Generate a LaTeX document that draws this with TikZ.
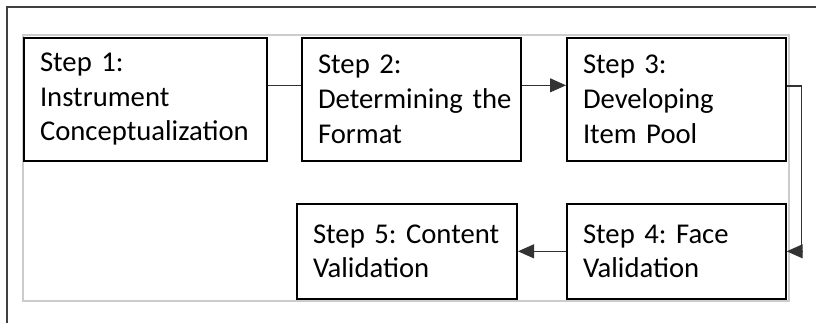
\documentclass[tikz,border=0pt]{standalone}
\usepackage{fontspec}
\setmainfont{Carlito}
\frenchspacing
\usetikzlibrary{arrows.meta}
\begin{document}
\begin{tikzpicture}[x=0.75pt, y=-0.75pt,
  stepbox/.style={draw, line width=1.5pt, anchor=north west, align=left,
    inner xsep=12pt, font=\fontsize{21.5}{26}\selectfont},
  link/.style={line width=0.8pt, black!80},
  arr/.style={link, -{Triangle[length=12pt, width=10.5pt]}}]
\useasboundingbox (0,0) rectangle (816,323);
% frames
\draw[black!75, line width=1.2pt] (816,7) -- (7,7) -- (7,323);
\draw[black!20, line width=1.2pt] (23,35) rectangle (789,301);
% top row
\node[stepbox, text width=158pt, minimum height=92pt] (concept) at (23,37) {Step 1:\\Instrument\\Conceptualization};
\node[stepbox, text width=140pt, minimum height=92pt] (format) at (301,37) {Step 2:\\Determining~the\\Format};
\node[stepbox, text width=140pt, minimum height=92pt] (pool) at (566,37) {Step 3:\\Developing\\Item Pool};
% bottom row
\node[stepbox, text width=140pt, minimum height=71pt] (face) at (566,203) {Step 4: Face\\Validation};
\node[stepbox, text width=141pt, minimum height=71pt] (content) at (296,203) {Step 5: Content\\Validation};
% connectors
\draw[link] ([yshift=10.5pt]concept.east) -- ([yshift=10.5pt]format.west);
\draw[arr] ([yshift=10.5pt]format.east) -- ([yshift=10.5pt]pool.west);
\draw[arr] ([yshift=10pt]pool.east) -- ++(15,0) |- (face.east);
\draw[arr] (face.west) -- (content.east);
\end{tikzpicture}
\end{document}
